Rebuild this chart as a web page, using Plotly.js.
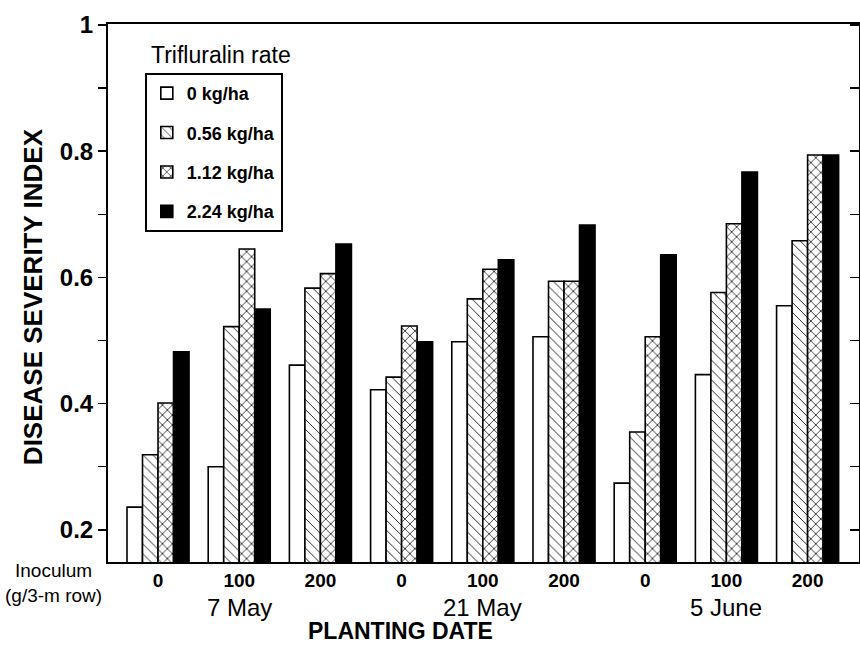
<!DOCTYPE html>
<html>
<head>
<meta charset="utf-8">
<script src="https://cdn.plot.ly/plotly-3.0.1.min.js"></script>
<style>html,body{margin:0;padding:0;background:#fff;}#chart{width:860px;height:645px;}</style>
</head>
<body>
<div id="chart"></div>
<script>
// Categories: 9 groups (planting date x inoculum)
const groupIndex = [0, 1, 2, 3, 4, 5, 6, 7, 8];
const inoculumLabels = ["0", "100", "200", "0", "100", "200", "0", "100", "200"];
const plantingDates = ["7 May", "21 May", "5 June"];
const datePositions = [1, 4, 7];
const seriesNames = ["0 kg/ha", "0.56 kg/ha", "1.12 kg/ha", "2.24 kg/ha"];

// Disease severity index values
const rate0    = [0.236, 0.300, 0.461, 0.422, 0.498, 0.506, 0.274, 0.446, 0.555];
const rate056  = [0.319, 0.522, 0.583, 0.442, 0.566, 0.594, 0.355, 0.576, 0.658];
const rate112  = [0.401, 0.645, 0.606, 0.523, 0.613, 0.594, 0.506, 0.685, 0.794];
const rate224  = [0.482, 0.550, 0.653, 0.498, 0.628, 0.683, 0.636, 0.767, 0.794];

const yTickVals = [0.2, 0.3, 0.4, 0.5, 0.6, 0.7, 0.8, 0.9, 1.0];
const yTickText = ["0.2", "", "0.4", "", "0.6", "", "0.8", "", "1"];

const FONT = "Liberation Sans, Arial, Helvetica, sans-serif";
const seriesValues = [rate0, rate056, rate112, rate224];
const styles = [
  {color: "#ffffff", pattern: {shape: ""}},
  {color: "#ffffff", pattern: {shape: "\\", fgcolor: "#000", bgcolor: "#fff", size: 7, solidity: 0.12}},
  {color: "#ffffff", pattern: {shape: "x", fgcolor: "#000", bgcolor: "#fff", size: 7, solidity: 0.2}},
  {color: "#000000", pattern: {shape: ""}}
];

const traces = seriesValues.map((vals, i) => ({
  type: "bar",
  name: seriesNames[i],
  x: groupIndex,
  y: vals,
  legendgroup: "g" + i,
  marker: {
    color: styles[i].color,
    pattern: styles[i].pattern,
    line: {color: "#000", width: 1.6}
  },
  hoverinfo: "skip"
}));

// invisible trace to activate the right-hand axis
traces.push({type: "scatter", x: [0], y: [0.5], yaxis: "y2", mode: "markers",
  marker: {opacity: 0}, showlegend: false, hoverinfo: "skip"});

const annotations = plantingDates.map((d, i) => ({
  text: d, x: datePositions[i], xref: "x", y: 0, yref: "paper",
  xanchor: "center", yanchor: "middle", yshift: -45, showarrow: false,
  font: {family: FONT, size: 24, color: "#000"}
}));
annotations.push({
  text: "PLANTING DATE", x: 0.39, xref: "paper", y: 0, yref: "paper",
  xanchor: "center", yanchor: "middle", yshift: -69, showarrow: false,
  font: {family: FONT, size: 23, color: "#000", weight: "bold"}
});
annotations.push({
  text: "Inoculum<br>(g/3-m row)", x: -0.073, xref: "paper", y: 0, yref: "paper",
  xanchor: "center", yanchor: "middle", yshift: -21, showarrow: false, align: "center",
  font: {family: FONT, size: 19, color: "#000"}
});
annotations.push({
  text: "DISEASE SEVERITY INDEX", x: -0.1, xref: "paper", y: 0.494, yref: "paper",
  xanchor: "center", yanchor: "middle", textangle: -90, showarrow: false,
  font: {family: FONT, size: 26, color: "#000", weight: "bold"}
});
annotations.push({
  text: "Trifluralin rate", x: 0.0546, xref: "paper", y: 0.942, yref: "paper",
  xanchor: "left", yanchor: "middle", showarrow: false,
  font: {family: FONT, size: 23, color: "#000"}
});

const layout = {
  width: 860, height: 645,
  margin: {l: 108, r: 1, t: 24, b: 83},
  paper_bgcolor: "#fff", plot_bgcolor: "#fff",
  barmode: "group", bargap: 0.236, bargroupgap: 0,
  showlegend: true,
  legend: {
    x: 0.049, y: 0.909, xanchor: "left", yanchor: "top",
    bordercolor: "#000", borderwidth: 2, bgcolor: "#fff",
    font: {family: FONT, size: 18, color: "#000", weight: "bold"},
    traceorder: "grouped", tracegroupgap: 13
  },
  xaxis: {
    range: [-0.616, 8.633], tickvals: groupIndex, ticktext: inoculumLabels,
    ticks: "", showgrid: false, zeroline: false,
    showline: true, linecolor: "#000", linewidth: 2, mirror: true,
    tickfont: {family: FONT, size: 19, color: "#000", weight: "bold"}
  },
  yaxis: {
    range: [0.149, 1.0016], tickvals: yTickVals, ticktext: yTickText,
    ticks: "outside", ticklen: 8, tickwidth: 1.5, tickcolor: "#000",
    showgrid: false, zeroline: false,
    showline: true, linecolor: "#000", linewidth: 2,
    tickfont: {family: FONT, size: 24, color: "#000", weight: "bold"}
  },
  yaxis2: {
    range: [0.149, 1.0016], overlaying: "y", side: "right",
    tickvals: yTickVals, showticklabels: false,
    ticks: "inside", ticklen: 9, tickwidth: 1.5, tickcolor: "#000",
    showgrid: false, zeroline: false,
    showline: true, linecolor: "#000", linewidth: 2
  },
  annotations: annotations
};

Plotly.newPlot("chart", traces, layout, {displayModeBar: false, staticPlot: true});
</script>
</body>
</html>
